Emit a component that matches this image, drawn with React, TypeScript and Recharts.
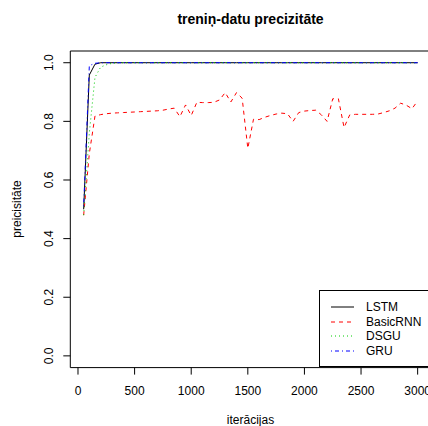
import * as React from 'react';
import { LineChart, Line, XAxis, YAxis, ReferenceArea } from 'recharts';

const iterations = [
  50, 100, 150, 200, 250, 300, 350, 400, 450, 500,
  550, 600, 650, 700, 750, 800, 850, 900, 950, 1000,
  1050, 1100, 1150, 1200, 1250, 1300, 1350, 1400, 1450, 1500,
  1550, 1600, 1650, 1700, 1750, 1800, 1850, 1900, 1950, 2000,
  2050, 2100, 2150, 2200, 2250, 2300, 2350, 2400, 2450, 2500,
  2550, 2600, 2650, 2700, 2750, 2800, 2850, 2900, 2950, 3000,
];

const lstm = [
  0.5, 0.958, 0.995, 1, 1, 1, 1, 1, 1, 1,
  1, 1, 1, 1, 1, 1, 1, 1, 1, 1,
  1, 1, 1, 1, 1, 1, 1, 1, 1, 1,
  1, 1, 1, 1, 1, 1, 1, 1, 1, 1,
  1, 1, 1, 1, 1, 1, 1, 1, 1, 1,
  1, 1, 1, 1, 1, 1, 1, 1, 1, 1,
];

const basicRnn = [
  0.48, 0.69, 0.818, 0.823, 0.826, 0.828, 0.829, 0.83, 0.831, 0.832,
  0.833, 0.834, 0.835, 0.836, 0.838, 0.842, 0.845, 0.816, 0.856, 0.82,
  0.865, 0.864, 0.864, 0.865, 0.873, 0.898, 0.866, 0.898, 0.879, 0.708,
  0.807, 0.806, 0.814, 0.82, 0.825, 0.828, 0.826, 0.8, 0.83, 0.835,
  0.837, 0.838, 0.822, 0.8, 0.877, 0.877, 0.779, 0.822, 0.824, 0.824,
  0.824, 0.824, 0.825, 0.83, 0.836, 0.845, 0.862, 0.855, 0.843, 0.87,
];

const dsgu = [
  0.48, 0.76, 0.95, 0.985, 0.993, 0.998, 1, 1, 1, 1,
  1, 1, 1, 1, 1, 1, 1, 1, 1, 1,
  1, 1, 1, 1, 1, 1, 1, 1, 1, 1,
  1, 1, 1, 1, 1, 1, 1, 1, 1, 1,
  1, 1, 1, 1, 1, 1, 1, 1, 1, 1,
  1, 1, 1, 1, 1, 1, 1, 1, 1, 1,
];

const gru = [
  0.51, 0.99, 0.998, 1, 1, 1, 1, 1, 1, 1,
  1, 1, 1, 1, 1, 1, 1, 1, 1, 1,
  1, 1, 1, 1, 1, 1, 1, 1, 1, 1,
  1, 1, 1, 1, 1, 1, 1, 1, 1, 1,
  1, 1, 1, 1, 1, 1, 1, 1, 1, 1,
  1, 1, 1, 1, 1, 1, 1, 1, 1, 1,
];

const xTicks = [0, 500, 1000, 1500, 2000, 2500, 3000];
const yTicks = [0, 0.2, 0.4, 0.6, 0.8, 1];

const series = [
  { key: 'lstm', name: 'LSTM', color: '#000000', dash: undefined },
  { key: 'rnn', name: 'BasicRNN', color: '#ff0000', dash: '4 4' },
  { key: 'dsgu', name: 'DSGU', color: '#00cd00', dash: '1 3' },
  { key: 'gru', name: 'GRU', color: '#0000ff', dash: '1 3 4 3' },
];

const data = iterations.map((it, i) => ({
  iter: it,
  lstm: lstm[i],
  rnn: basicRnn[i],
  dsgu: dsgu[i],
  gru: gru[i],
}));

const FONT = '"Liberation Sans", Arial, Helvetica, sans-serif';

const YTick = (props: any) => {
  const { x, y, payload } = props;
  return (
    <text
      x={x}
      y={y}
      dy="0.35em"
      textAnchor="middle"
      fontSize={12}
      fontFamily={FONT}
      fill="#000"
      transform={`rotate(-90, ${x}, ${y})`}
    >
      {payload.value.toFixed(1)}
    </text>
  );
};

export default function App() {
  return (
    <div
      style={{
        position: 'absolute',
        left: 0,
        top: 0,
        width: 428,
        height: 426,
        overflow: 'hidden',
        background: '#fff',
        fontFamily: FONT,
      }}
    >
      <div
        style={{
          position: 'absolute',
          left: 0,
          width: 501,
          top: 11,
          textAlign: 'center',
          fontWeight: 'bold',
          fontSize: 14,
          color: '#000',
        }}
      >
        treniņ-datu precizitāte
      </div>
      <div
        style={{
          position: 'absolute',
          left: 0,
          width: 501,
          top: 413,
          textAlign: 'center',
          fontSize: 12,
          color: '#000',
        }}
      >
        iterācijas
      </div>
      <div
        style={{
          position: 'absolute',
          left: 17,
          top: 209,
          fontSize: 12,
          color: '#000',
          transform: 'translate(-50%, -50%) rotate(-90deg)',
          whiteSpace: 'nowrap',
        }}
      >
        preicisitāte
      </div>

      <div style={{ position: 'absolute', left: 0, top: 0 }}>
        <LineChart
          width={450}
          height={426}
          data={data}
          margin={{ top: 51, right: 19, bottom: 0, left: 0 }}
        >
          <XAxis
            dataKey="iter"
            type="number"
            domain={[-68, 3118]}
            ticks={xTicks}
            allowDataOverflow
            axisLine={false}
            tickLine={{ stroke: '#000' }}
            tickSize={7}
            tickMargin={12}
            height={58.4}
            interval={0}
            tick={{ fontSize: 12, fill: '#000', fontFamily: FONT }}
          />
          <YAxis
            type="number"
            domain={[-0.04, 1.04]}
            ticks={yTicks}
            allowDataOverflow
            axisLine={false}
            tickLine={{ stroke: '#000' }}
            tickSize={7}
            tickMargin={14}
            width={70.3}
            interval={0}
            tick={<YTick />}
          />
          <ReferenceArea
            x1={-68}
            x2={3118}
            y1={-0.04}
            y2={1.04}
            fill="none"
            stroke="#000"
            strokeWidth={1}
            ifOverflow="visible"
          />
          {series.map((s) => (
            <Line
              key={s.key}
              dataKey={s.key}
              name={s.name}
              type="linear"
              stroke={s.color}
              strokeWidth={1}
              strokeDasharray={s.dash}
              dot={false}
              activeDot={false}
              isAnimationActive={false}
            />
          ))}
        </LineChart>
      </div>

      <div
        style={{
          position: 'absolute',
          left: 319,
          top: 290,
          width: 130,
          height: 77,
          border: '1px solid #000',
          background: '#fff',
          boxSizing: 'border-box',
        }}
      >
        {series.map((s, i) => (
          <div
            key={s.key}
            style={{
              position: 'absolute',
              left: 0,
              top: 9 + i * 14.7,
              height: 14,
              display: 'flex',
              alignItems: 'center',
              fontSize: 12,
              color: '#000',
            }}
          >
            <svg width={46} height={14} style={{ display: 'block' }}>
              <line
                x1={11}
                x2={34}
                y1={7}
                y2={7}
                stroke={s.color}
                strokeWidth={1}
                strokeDasharray={s.dash}
              />
            </svg>
            <span style={{ whiteSpace: 'nowrap' }}>{s.name}</span>
          </div>
        ))}
      </div>
    </div>
  );
}
